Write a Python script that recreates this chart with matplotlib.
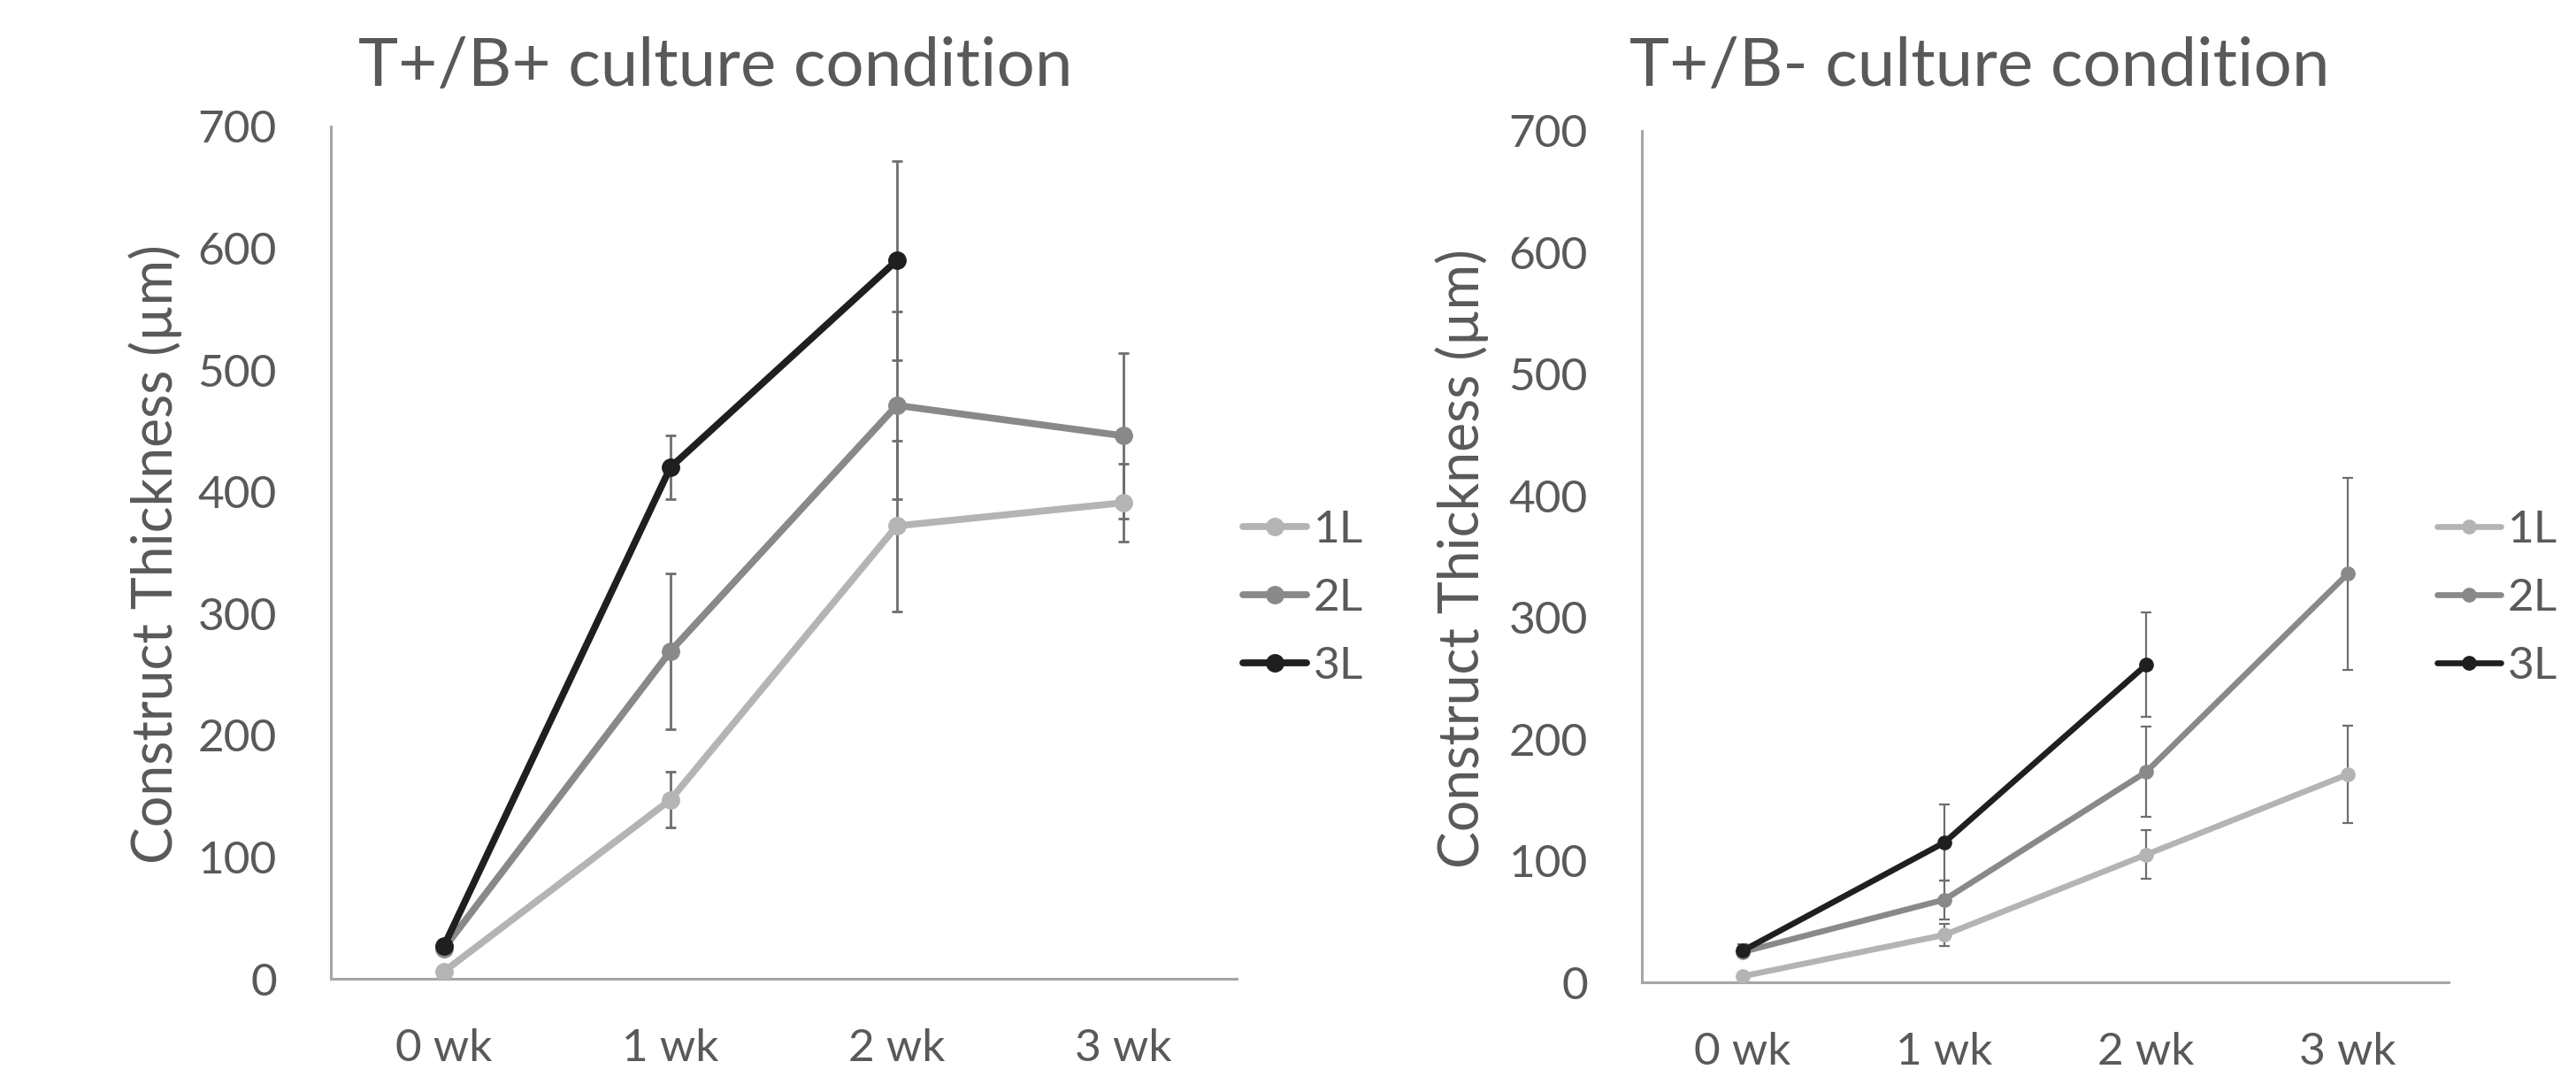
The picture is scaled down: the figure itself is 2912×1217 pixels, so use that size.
import matplotlib
matplotlib.use('Agg')
import matplotlib.pyplot as plt

plt.rcParams['font.family'] = ['Lato', 'DejaVu Sans']

weeks = ['0 wk', '1 wk', '2 wk', '3 wk']
series = ['1L', '2L', '3L']
colors = {'1L': '#b4b4b4', '2L': '#898989', '3L': '#1f1f1f'}

# T+/B+ culture condition
bp_mean = {'1L': [6, 147, 372, 391],
           '2L': [25, 269, 471, 446],
           '3L': [27, 420, 590]}
bp_err = {'1L': [4, 23, 70, 32],
          '2L': [4, 64, 77, 68],
          '3L': [5, 26, 82]}

# T+/B- culture condition
bm_mean = {'1L': [5, 39, 105, 171],
           '2L': [25, 68, 173, 336],
           '3L': [26, 115, 261]}
bm_err = {'1L': [3, 9, 20, 40],
          '2L': [4, 16, 37, 79],
          '3L': [5, 31, 43]}

text_col = '#595959'
axis_col = '#a6a6a6'

fig = plt.figure(figsize=(29.12, 12.17), dpi=100)
ax1 = fig.add_axes([0.1284, 0.0912, 0.3516, 0.7913])
ax2 = fig.add_axes([0.6374, 0.0879, 0.3132, 0.7905])


def draw(ax, means, errs, lw, ms, elw):
    for s in series:
        x = list(range(len(means[s])))
        ax.errorbar(x, means[s], yerr=errs[s], fmt='none', ecolor='#6e6e6e',
                    elinewidth=elw, capsize=4.3, capthick=elw, zorder=1)
    for s in series:
        x = list(range(len(means[s])))
        ax.plot(x, means[s], color=colors[s], lw=lw, marker='o', ms=ms,
                label=s, zorder=3, solid_capstyle='round', solid_joinstyle='round')
    ax.set_xlim(-0.5, 3.5)
    ax.set_ylim(0, 700)
    ax.set_yticks(range(0, 701, 100))
    ax.set_xticks(range(4))
    ax.set_xticklabels(weeks)
    for sp in ['top', 'right']:
        ax.spines[sp].set_visible(False)
    for sp in ['left', 'bottom']:
        ax.spines[sp].set_color(axis_col)
        ax.spines[sp].set_linewidth(2.2)
    ax.tick_params(axis='y', length=0, pad=44, labelsize=37, labelcolor=text_col)
    ax.tick_params(axis='x', length=0, pad=40, labelsize=37, labelcolor=text_col)


draw(ax1, bp_mean, bp_err, 5.6, 14, 2.0)
draw(ax2, bm_mean, bm_err, 4.8, 11, 1.6)

fig.text(405 / 2912, 1 - 97 / 1217, 'T+/B+ culture condition', fontsize=55,
         color=text_col, ha='left', va='baseline')
fig.text(1842 / 2912, 1 - 97 / 1217, 'T+/B- culture condition', fontsize=55,
         color=text_col, ha='left', va='baseline')
fig.text(176 / 2912, 1 - 626 / 1217, 'Construct Thickness (µm)', fontsize=45,
         color=text_col, rotation=90, ha='center', va='center')
fig.text(1653 / 2912, 1 - 631 / 1217, 'Construct Thickness (µm)', fontsize=45,
         color=text_col, rotation=90, ha='center', va='center')

for ax, xl in [(ax1, 1405 / 2912), (ax2, 2755 / 2912)]:
    ax.legend(loc='center left', bbox_to_anchor=(xl, 1 - 676 / 1217),
              bbox_transform=fig.transFigure, frameon=False, fontsize=37,
              labelcolor=text_col, handlelength=1.4, handletextpad=0.15,
              labelspacing=0.6, borderpad=0, borderaxespad=0)

fig.savefig('out.png', dpi=100)
